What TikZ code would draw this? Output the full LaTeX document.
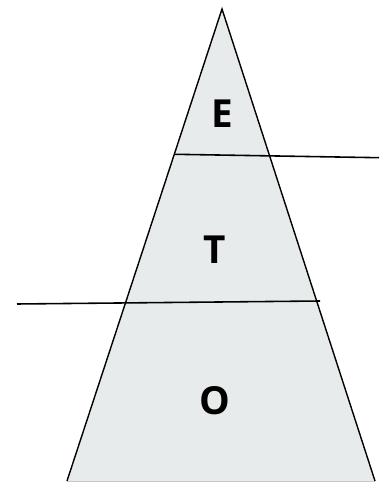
\documentclass[tikz,border=0pt]{standalone}
\usepackage{fontspec}
\setmainfont{Open Sans}
\definecolor{layergray}{HTML}{E8EBEC}

\begin{document}
\begin{tikzpicture}[
        x=0.02cm, y=0.02cm,
        side/.style={draw=black, line width=0.8pt, line join=miter},
        divider/.style={draw=black, line width=0.9pt},
        layerlabel/.style={inner sep=0pt, font=\fontsize{22}{26}\selectfont\bfseries}
    ]
    \useasboundingbox (0,0) rectangle (379,483);

    % ==========================================
    % 1. Triangle
    % ==========================================
    \coordinate (apex) at (222, 474);
    \coordinate (bl) at (67, 2);
    \coordinate (br) at (375, 2);
    \fill[layergray] (apex) -- (bl) -- (br) -- cycle;
    \draw[gray!45, line width=0.5pt] (bl) -- (br);
    \path[side] (bl) -- (apex) -- (br);

    % ==========================================
    % 2. Divider lines
    % ==========================================
    \coordinate (u1) at (175, 328.7);
    \coordinate (u2) at (379, 325.3);
    \coordinate (l1) at (17, 179);
    \coordinate (l2) at (320, 182);
    \path[divider] (u1) -- (u2);
    \path[divider] (l1) -- (l2);

    % ==========================================
    % 3. Labels
    % ==========================================
    \node[layerlabel] (e) at (222.8, 369) {E};
    \node[layerlabel] (t) at (215, 233.5) {T};
    \node[layerlabel] (o) at (214.5, 82) {O};

\end{tikzpicture}
\end{document}
